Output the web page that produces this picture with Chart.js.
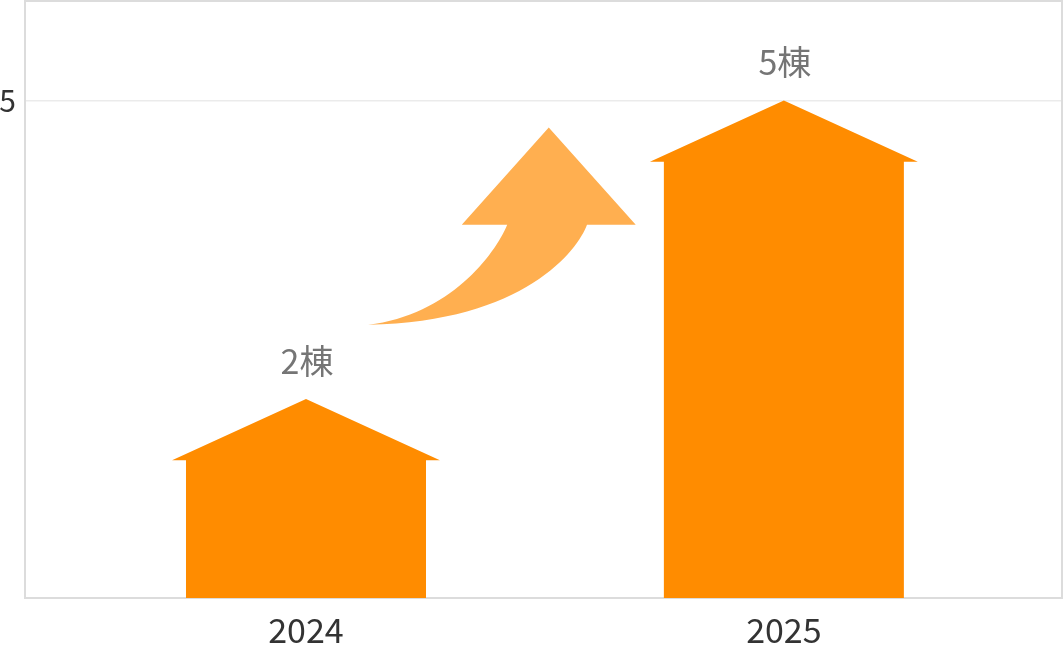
<!DOCTYPE html>
<html>
<head>
<meta charset="utf-8">
<script src="https://cdn.jsdelivr.net/npm/chart.js@4"></script>
<style>
  html, body { margin: 0; padding: 0; background: #fff; }
  #wrap { width: 1064px; height: 654px; position: relative; }
</style>
</head>
<body>
<div id="wrap"><canvas id="grafico_casas"></canvas></div>
<script>
// dados do gráfico
const categorias = ['2024', '2025'];
const valores = [2, 5];
const rotulos = ['2棟', '5棟'];
const ticksY = [5];

const fonte = '"Noto Sans CJK JP", "Noto Sans", sans-serif';
const laranja = '#ff8c00';
const laranjaClaro = '#ffaf50';

// desenha casinhas no lugar das barras, a seta e os rótulos
const casasPlugin = {
    id: 'casas',
    afterDatasetsDraw(chart) {
        const ctx = chart.ctx;
        const xs = chart.scales.x;
        const ys = chart.scales.y;
        const area = chart.chartArea;

        // seta decorativa (em coordenadas de dados)
        const p = (x, y) => [xs.getPixelForValue(x), ys.getPixelForValue(y)];
        const pico = p(0.508, 4.728);
        const cabEsq = p(0.326, 3.752);
        const cabDir = p(0.690, 3.752);
        const hasteEsq = p(0.421, 3.752);
        const hasteDir = p(0.588, 3.752);
        const cauda = p(0.130, 2.746);
        const baixo1 = p(0.569, 3.501);
        const baixo2 = p(0.458, 2.777);
        const cima1 = p(0.395, 3.451);
        const cima2 = p(0.301, 2.847);
        ctx.save();
        ctx.fillStyle = laranjaClaro;
        ctx.beginPath();
        ctx.moveTo(pico[0], pico[1]);
        ctx.lineTo(cabDir[0], cabDir[1]);
        ctx.lineTo(hasteDir[0], hasteDir[1]);
        ctx.bezierCurveTo(baixo1[0], baixo1[1], baixo2[0], baixo2[1], cauda[0], cauda[1]);
        ctx.bezierCurveTo(cima2[0], cima2[1], cima1[0], cima1[1], hasteEsq[0], hasteEsq[1]);
        ctx.lineTo(cabEsq[0], cabEsq[1]);
        ctx.closePath();
        ctx.fill();
        ctx.restore();

        const meta = chart.getDatasetMeta(0);
        meta.data.forEach((bar, i) => {
            const { x, y, base, width } = bar.getProps(['x', 'y', 'base', 'width'], true);
            const meio = width / 2;
            const telhado = width * 0.255;
            const beiral = width * 0.058;
            ctx.save();
            ctx.fillStyle = laranja;
            ctx.beginPath();
            ctx.moveTo(x - meio, base);
            ctx.lineTo(x - meio, y + telhado);
            ctx.lineTo(x - meio - beiral, y + telhado);
            ctx.lineTo(x, y);
            ctx.lineTo(x + meio + beiral, y + telhado);
            ctx.lineTo(x + meio, y + telhado);
            ctx.lineTo(x + meio, base);
            ctx.closePath();
            ctx.fill();

            ctx.fillStyle = '#757575';
            ctx.font = '34px ' + fonte;
            ctx.textAlign = 'center';
            ctx.textBaseline = 'bottom';
            ctx.fillText(rotulos[i], x + 1, y - 21);
            ctx.restore();
        });

        // moldura do topo e da direita
        ctx.save();
        ctx.strokeStyle = '#dcdcdc';
        ctx.lineWidth = 2;
        ctx.beginPath();
        ctx.moveTo(area.left, area.top);
        ctx.lineTo(area.right, area.top);
        ctx.lineTo(area.right, area.bottom);
        ctx.stroke();
        ctx.restore();
    }
};

const canvas = document.getElementById('grafico_casas');
const ctx = canvas.getContext('2d');

new Chart(ctx, {
    type: 'bar',
    data: {
        datasets: [{
            label: '棟数',
            data: valores.map((v, i) => ({ x: i, y: v })),
            backgroundColor: 'rgba(0,0,0,0)',
            borderWidth: 0,
            barThickness: 240,
        }],
    },
    options: {
        responsive: true,
        maintainAspectRatio: false,
        animation: false,
        layout: { padding: { top: 1, right: 2, left: 0, bottom: 0 } },
        plugins: {
            legend: { display: false },
            tooltip: { enabled: false },
        },
        scales: {
            x: {
                type: 'linear',
                offset: false,
                min: -0.588,
                max: 1.582,
                afterBuildTicks: (scale) => {
                    scale.ticks = categorias.map((c, i) => ({ value: i }));
                },
                afterFit: (scale) => {
                    scale.height = 56;
                    scale.paddingLeft = 0;
                    scale.paddingRight = 0;
                },
                ticks: {
                    autoSkip: false,
                    maxRotation: 0,
                    padding: 12,
                    color: '#333',
                    font: { family: fonte, size: 34 },
                    callback: (v) => categorias[v],
                },
                grid: { display: false, drawTicks: false, offset: false },
                border: { display: true, color: '#dcdcdc', width: 2 },
            },
            y: {
                min: 0,
                max: 6,
                afterBuildTicks: (scale) => {
                    scale.ticks = ticksY.map(v => ({ value: v }));
                },
                afterFit: (scale) => {
                    scale.width = 25;
                    scale.paddingTop = 0;
                    scale.paddingBottom = 0;
                },
                ticks: {
                    padding: 9,
                    color: '#333',
                    font: { family: fonte, size: 30 },
                },
                grid: { color: '#ebebeb', lineWidth: 1.5, drawTicks: false },
                border: { display: true, color: '#dcdcdc', width: 2 },
            },
        },
    },
    plugins: [casasPlugin],
});
</script>
</body>
</html>
